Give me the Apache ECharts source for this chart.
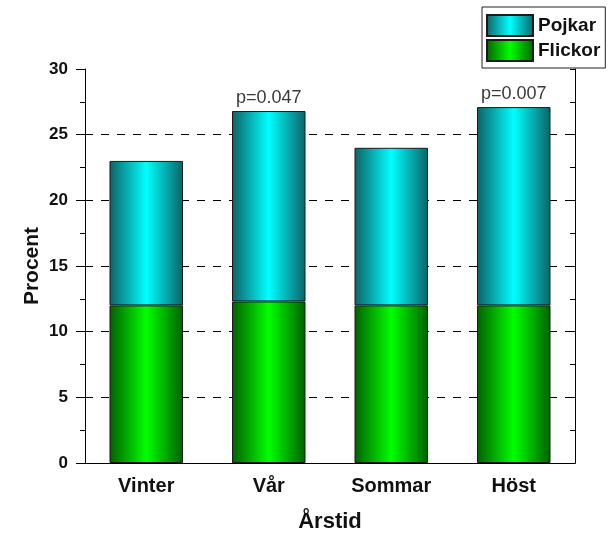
<!DOCTYPE html>
<html><head><meta charset="utf-8">
<script src="https://cdn.jsdelivr.net/npm/echarts@6/dist/echarts.min.js"></script>
<style>html,body{margin:0;padding:0;background:#fff}#c{width:609px;height:533px}</style>
</head><body><div id="c"></div>
<script>
const categories = ['Vinter', 'Vår', 'Sommar', 'Höst'];
const flickor = [12.0, 12.3, 12.0, 12.0];
const pojkar = [11.0, 14.5, 12.0, 15.1];
const pLabels = ['', 'p=0.047', '', 'p=0.007'];
const yTicks = [0, 5, 10, 15, 20, 25, 30];

const FONT = '"Liberation Sans", Arial, sans-serif';
const chart = echarts.init(document.getElementById('c'), null, {renderer: 'canvas'});
const G = echarts.graphic.LinearGradient;
const cyanGrad = new G(0, 0, 1, 0, [
  {offset: 0, color: '#0d6266'}, {offset: 0.5, color: '#00ffff'}, {offset: 1, color: '#0d6266'}]);
const greenGrad = new G(0, 0, 1, 0, [
  {offset: 0, color: '#006000'}, {offset: 0.5, color: '#00ff00'}, {offset: 1, color: '#006000'}]);

chart.setOption({
  animation: false,
  backgroundColor: '#fff',
  grid: {left: 85, right: 34, top: 69, bottom: 70, show: false, containLabel: false, outerBoundsMode: 'none'},
  legend: {
    data: ['Pojkar', 'Flickor'], orient: 'vertical', left: 482, top: 7,
    icon: 'rect', itemWidth: 46, itemHeight: 21, itemGap: 2, padding: [7, 5, 6, 4],
    borderColor: '#222', borderWidth: 1,
    textStyle: {fontFamily: FONT, fontWeight: 'bold', fontSize: 19, lineHeight: 21, color: '#111'},
    selectedMode: false
  },
  xAxis: [{
    type: 'category', data: categories, boundaryGap: true,
    name: 'Årstid', nameLocation: 'middle', nameGap: 48, nameMoveOverlap: false,
    nameTextStyle: {fontFamily: FONT, fontWeight: 'bold', fontSize: 22, color: '#111'},
    axisLine: {lineStyle: {color: '#000', width: 1}},
    axisTick: {alignWithLabel: true, length: 7, lineStyle: {color: '#000'}},
    axisLabel: {fontFamily: FONT, fontWeight: 'bold', fontSize: 20, color: '#111', margin: 13},
    splitLine: {show: false}
  }, {
    type: 'category', data: categories, position: 'top', boundaryGap: true,
    axisLine: {lineStyle: {color: '#000', width: 1}},
    axisTick: {show: false}, axisLabel: {show: false}, splitLine: {show: false}
  }],
  yAxis: [{
    type: 'value', min: yTicks[0], max: yTicks[yTicks.length - 1], interval: 5,
    name: 'Procent', nameLocation: 'middle', nameGap: 42, nameMoveOverlap: false,
    nameTextStyle: {fontFamily: FONT, fontWeight: 'bold', fontSize: 21, color: '#111'},
    axisLine: {show: true, lineStyle: {color: '#000', width: 1}},
    axisTick: {show: true, length: 9, lineStyle: {color: '#000'}},
    minorTick: {show: true, splitNumber: 2, length: 5, lineStyle: {color: '#000'}},
    axisLabel: {fontFamily: FONT, fontWeight: 'bold', fontSize: 17, color: '#111', margin: 17},
    splitLine: {show: true, showMinLine: false, showMaxLine: false,
      lineStyle: {color: '#000', type: [8, 8], width: 1}}
  }, {
    type: 'value', min: yTicks[0], max: yTicks[yTicks.length - 1], interval: 5, position: 'right',
    axisLine: {show: true, lineStyle: {color: '#000', width: 1}},
    axisTick: {show: true, inside: true, length: 5, lineStyle: {color: '#000'}},
    minorTick: {show: true, splitNumber: 2, length: 5, lineStyle: {color: '#000'}},
    axisLabel: {show: false}, splitLine: {show: false}
  }],
  series: [{
    name: 'Flickor', type: 'bar', stack: 'a', data: flickor, barWidth: '60%',
    itemStyle: {color: greenGrad, borderColor: '#1a1a1a', borderWidth: 1}
  }, {
    name: 'Pojkar', type: 'bar', stack: 'a', data: pojkar, barWidth: '60%',
    itemStyle: {color: cyanGrad, borderColor: '#1a1a1a', borderWidth: 1},
    label: {show: true, position: 'top', distance: 4, fontFamily: FONT, fontSize: 18, color: '#3a3a3a',
      formatter: p => pLabels[p.dataIndex]}
  }]
});
</script></body></html>
